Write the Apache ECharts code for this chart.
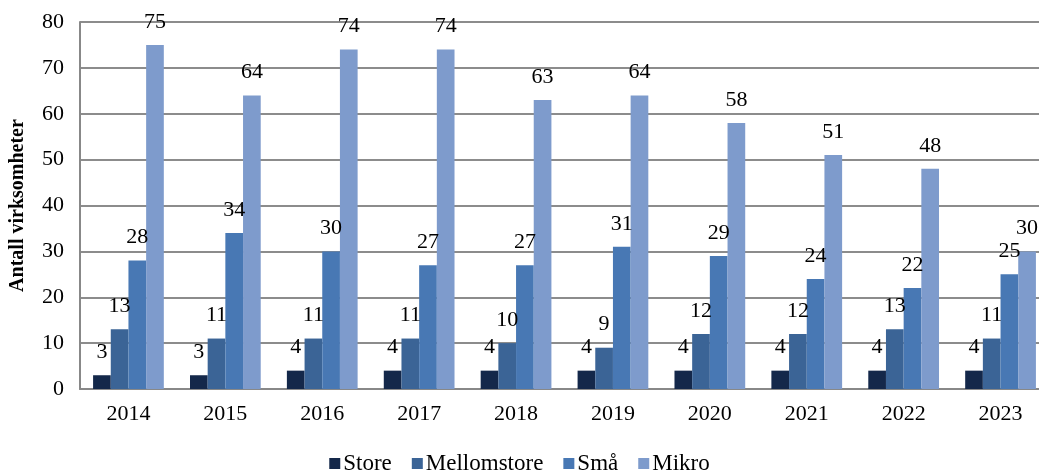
<!DOCTYPE html>
<html><head><meta charset="utf-8">
<script src="https://cdn.jsdelivr.net/npm/echarts@6/dist/echarts.min.js"></script>
<style>html,body{margin:0;padding:0;background:#fff}#c{width:1039px;height:476px}</style>
</head><body><div id="c"></div>
<script>
const years = ['2014','2015','2016','2017','2018','2019','2020','2021','2022','2023'];
const store = [3,3,4,4,4,4,4,4,4,4];
const mellomstore = [13,11,11,11,10,9,12,12,13,11];
const sma = [28,34,30,27,27,31,29,24,22,25];
const mikro = [75,64,74,74,63,64,58,51,48,30];
const seriesNames = ['Store','Mellomstore','Små','Mikro'];
const colors = ['#14284a','#3b6496','#4878b4','#7e9bcc'];
const font = '"Liberation Serif", "Times New Roman", serif';
const chart = echarts.init(document.getElementById('c'));
const mk = (name, data, i) => ({
  name, type: 'bar', data, barGap: '0%', barCategoryGap: '27%',
  itemStyle: {color: colors[i]},
  label: {show: true, position: 'top', distance: 12, color: '#000', fontFamily: font, fontSize: 22},
  animation: false
});
chart.setOption({
  animation: false,
  textStyle: {fontFamily: font},
  grid: {left: 80, right: -10, top: 22, bottom: 87, containLabel: false, outerBoundsMode: 'none'},
  legend: {bottom: -4, left: 'center', itemWidth: 11, itemHeight: 11, itemGap: 20,
    textStyle: {fontFamily: font, fontSize: 23, color: '#000', padding: [0, 0, 0, -2]}, icon: 'rect'},
  xAxis: {type: 'category', data: years,
    axisLine: {lineStyle: {color: '#888', width: 2}}, axisTick: {show: false},
    axisLabel: {fontFamily: font, fontSize: 22, color: '#000', margin: 14}},
  yAxis: {type: 'value', min: 0, max: 80, interval: 10,
    name: 'Antall virksomheter', nameLocation: 'middle', nameGap: 52,
    nameTextStyle: {fontFamily: font, fontSize: 20, fontWeight: 'bold', color: '#000'},
    axisLine: {show: true, lineStyle: {color: '#888', width: 2}}, axisTick: {show: false},
    axisLabel: {fontFamily: font, fontSize: 22, color: '#000', margin: 16},
    splitLine: {lineStyle: {color: '#8c8c8c', width: 2}}},
  series: [mk(seriesNames[0], store, 0), mk(seriesNames[1], mellomstore, 1), mk(seriesNames[2], sma, 2), mk(seriesNames[3], mikro, 3)]
});
</script></body></html>
